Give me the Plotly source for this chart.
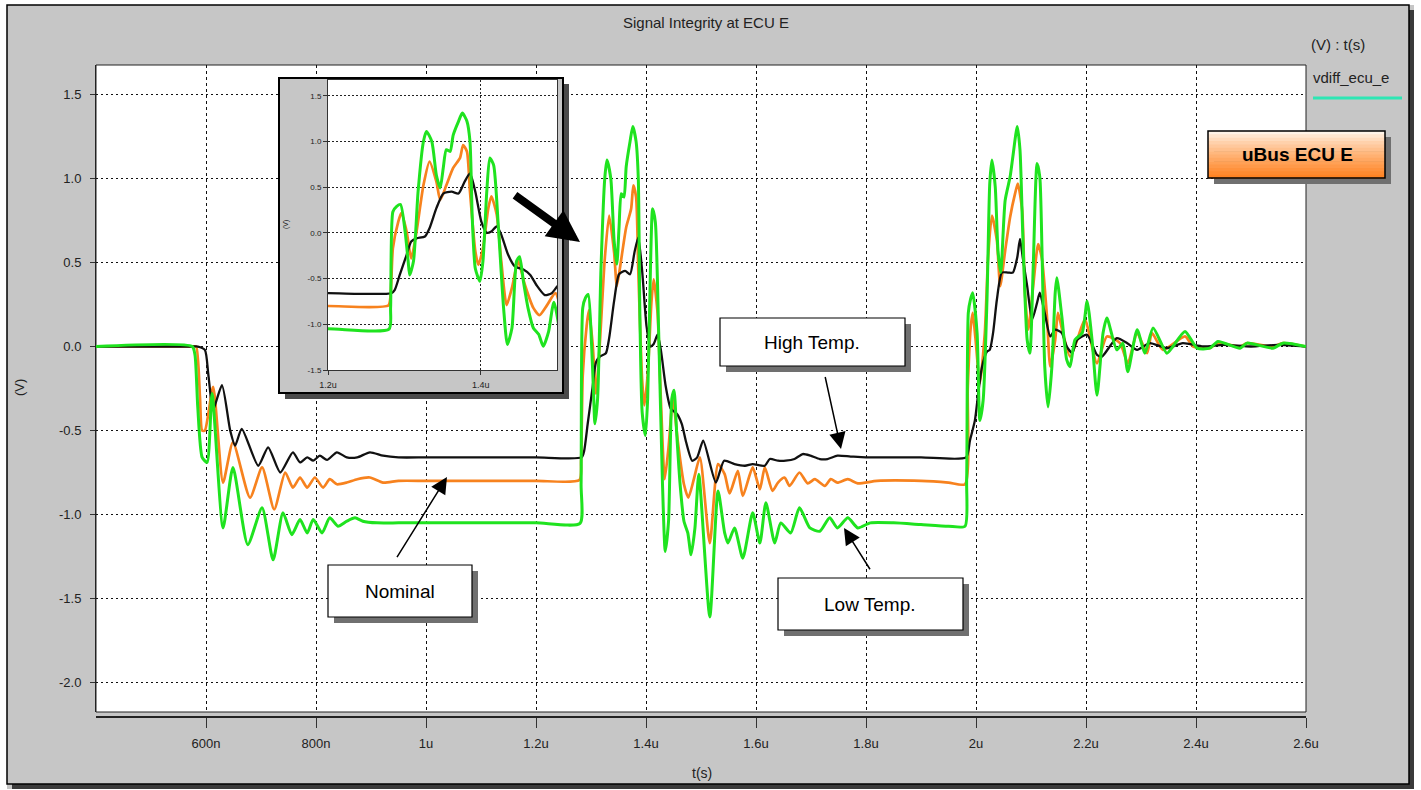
import plotly.graph_objects as go

W, H = 1421, 790

# ---------------- data (time in microseconds, voltage in volts) ----------------
t_high = [0.40, 0.575, 0.585, 0.598, 0.604, 0.611, 0.613, 0.629, 0.644, 0.653, 0.665, 0.695, 0.713,
          0.735, 0.758, 0.771, 0.784, 0.795, 0.807, 0.820, 0.838, 0.856, 0.875, 0.898, 0.922, 0.95,
          1.00, 1.10, 1.20, 1.283, 1.2875, 1.294, 1.303, 1.309, 1.316, 1.327, 1.333, 1.342, 1.351,
          1.362, 1.371, 1.379, 1.386, 1.393, 1.401, 1.408, 1.414, 1.421, 1.427, 1.436, 1.445, 1.456,
          1.465, 1.473, 1.484, 1.493, 1.504, 1.527, 1.542, 1.561, 1.580, 1.594, 1.616, 1.625, 1.640,
          1.654, 1.670, 1.685, 1.699, 1.716, 1.730, 1.748, 1.772, 1.80, 1.90, 1.982, 1.989, 1.998,
          2.004, 2.011, 2.020, 2.025, 2.031, 2.038, 2.047, 2.058, 2.067, 2.075, 2.080, 2.085, 2.093,
          2.102, 2.111, 2.116, 2.125, 2.135, 2.144, 2.156, 2.165, 2.175, 2.184, 2.202, 2.220, 2.229,
          2.256, 2.275, 2.293, 2.316, 2.347, 2.376, 2.413, 2.45, 2.50, 2.55, 2.60]
v_high = [0.0, 0.0, 0.0, -0.02, -0.16, -0.36, -0.38, -0.23, -0.50, -0.59, -0.49, -0.71, -0.60,
          -0.75, -0.63, -0.69, -0.66, -0.68, -0.65, -0.675, -0.63, -0.66, -0.66, -0.63, -0.65, -0.66,
          -0.66, -0.66, -0.66, -0.66, -0.623, -0.46, -0.24, -0.095, -0.06, -0.04, 0.05, 0.27, 0.43,
          0.45, 0.43, 0.56, 0.65, 0.45, 0.12, 0.0, 0.015, 0.07, -0.02, -0.24, -0.37, -0.40,
          -0.46, -0.57, -0.68, -0.66, -0.56, -0.81, -0.68, -0.70, -0.71, -0.70, -0.71, -0.67, -0.68,
          -0.68, -0.67, -0.64, -0.65, -0.67, -0.67, -0.65, -0.655, -0.66, -0.66, -0.66, -0.56, -0.44,
          -0.28, -0.12, -0.03, -0.02, 0.08, 0.28, 0.44, 0.44, 0.44, 0.53, 0.64, 0.53, 0.36,
          0.16, 0.26, 0.32, 0.20, 0.06, 0.10, 0.08, 0.0, -0.04, 0.04, 0.07, -0.05, -0.06,
          0.05, 0.02, -0.02, 0.02, -0.01, 0.02, 0.0, 0.01, 0.0, 0.01, 0.0]

t_nom = [0.40, 0.575, 0.582, 0.589, 0.593, 0.598, 0.613, 0.631, 0.649, 0.680, 0.702, 0.724, 0.744,
         0.758, 0.771, 0.784, 0.798, 0.813, 0.825, 0.838, 0.856, 0.875, 0.898, 0.922, 0.95, 1.00,
         1.10, 1.20, 1.279, 1.282, 1.285, 1.292, 1.296, 1.303, 1.309, 1.316, 1.325, 1.333, 1.342,
         1.347, 1.355, 1.364, 1.373, 1.377, 1.382, 1.386, 1.393, 1.397, 1.403, 1.410, 1.414, 1.421,
         1.427, 1.434, 1.441, 1.449, 1.458, 1.469, 1.477, 1.487, 1.498, 1.516, 1.531, 1.543, 1.552,
         1.567, 1.576, 1.594, 1.607, 1.616, 1.630, 1.640, 1.652, 1.661, 1.679, 1.694, 1.707, 1.725,
         1.736, 1.748, 1.767, 1.785, 1.82, 1.90, 1.95, 1.980, 1.985, 1.990, 1.994, 1.999, 2.007,
         2.016, 2.022, 2.029, 2.038, 2.044, 2.053, 2.062, 2.071, 2.076, 2.084, 2.089, 2.095, 2.104,
         2.113, 2.120, 2.129, 2.135, 2.144, 2.149, 2.158, 2.171, 2.184, 2.198, 2.220, 2.238, 2.262,
         2.276, 2.293, 2.311, 2.320, 2.340, 2.380, 2.395, 2.425, 2.440, 2.480, 2.493, 2.540, 2.558,
         2.60]
v_nom = [0.0, 0.0, 0.0, -0.30, -0.50, -0.50, -0.24, -0.81, -0.57, -0.90, -0.72, -0.97, -0.75,
         -0.84, -0.78, -0.84, -0.78, -0.84, -0.79, -0.82, -0.81, -0.79, -0.78, -0.81, -0.80, -0.80,
         -0.80, -0.80, -0.795, -0.68, -0.17, 0.12, 0.215, 0.015, -0.28, 0.015, 0.52, 0.78, 0.56,
         0.36, 0.52, 0.71, 0.82, 0.96, 0.89, 0.45, -0.20, -0.35, -0.17, 0.27, 0.40, 0.20,
         -0.31, -0.79, -0.60, -0.31, -0.57, -0.82, -0.90, -0.79, -0.66, -1.17, -0.70, -0.76, -0.875,
         -0.74, -0.89, -0.72, -0.85, -0.72, -0.86, -0.81, -0.78, -0.83, -0.75, -0.815, -0.79, -0.83,
         -0.79, -0.81, -0.79, -0.815, -0.80, -0.80, -0.81, -0.82, -0.25, 0.10, 0.20, 0.05, -0.22,
         0.08, 0.53, 0.78, 0.63, 0.36, 0.57, 0.77, 0.91, 0.97, 0.81, 0.32, 0.10, 0.36,
         0.61, 0.52, 0.18, -0.12, 0.04, 0.20, 0.08, -0.06, 0.04, 0.16, -0.10, 0.06, 0.02,
         -0.10, 0.08, -0.04, 0.08, -0.02, 0.06, 0.0, -0.01, 0.02, 0.0, 0.02, 0.0, 0.02,
         0.0]

t_low = [0.40, 0.575, 0.580, 0.585, 0.593, 0.602, 0.611, 0.631, 0.649, 0.676, 0.702, 0.722, 0.740,
         0.756, 0.771, 0.784, 0.795, 0.811, 0.825, 0.840, 0.856, 0.871, 0.885, 0.911, 0.95, 1.00,
         1.10, 1.20, 1.280, 1.282, 1.285, 1.290, 1.295, 1.301, 1.305, 1.307, 1.312, 1.318, 1.325,
         1.329, 1.336, 1.342, 1.347, 1.351, 1.355, 1.360, 1.364, 1.371, 1.376, 1.382, 1.386, 1.389,
         1.393, 1.399, 1.403, 1.408, 1.412, 1.417, 1.423, 1.430, 1.435, 1.441, 1.447, 1.451, 1.456,
         1.462, 1.469, 1.476, 1.482, 1.489, 1.496, 1.516, 1.531, 1.543, 1.549, 1.561, 1.576, 1.594,
         1.607, 1.618, 1.634, 1.645, 1.663, 1.679, 1.698, 1.716, 1.734, 1.748, 1.767, 1.785, 1.808,
         1.85, 1.90, 1.95, 1.980, 1.983, 1.986, 1.990, 1.994, 2.002, 2.007, 2.013, 2.020, 2.025,
         2.029, 2.035, 2.040, 2.045, 2.053, 2.062, 2.067, 2.075, 2.080, 2.085, 2.093, 2.098, 2.104,
         2.111, 2.116, 2.120, 2.125, 2.131, 2.138, 2.144, 2.147, 2.156, 2.165, 2.171, 2.180, 2.193,
         2.202, 2.211, 2.220, 2.231, 2.238, 2.256, 2.267, 2.276, 2.293, 2.307, 2.322, 2.347, 2.358,
         2.380, 2.402, 2.425, 2.440, 2.480, 2.493, 2.540, 2.558, 2.60]
v_low = [0.0, 0.0, -0.05, -0.36, -0.66, -0.69, -0.28, -1.08, -0.72, -1.18, -0.96, -1.27, -0.99,
         -1.12, -1.03, -1.11, -1.03, -1.11, -1.02, -1.07, -1.04, -1.02, -1.04, -1.05, -1.05, -1.05,
         -1.05, -1.05, -1.053, -0.82, 0.23, 0.29, 0.31, 0.015, -0.31, -0.46, -0.31, 0.45, 1.00,
         1.11, 1.00, 0.63, 0.49, 0.71, 0.91, 0.89, 1.07, 1.22, 1.31, 1.22, 1.00, 0.16,
         -0.39, -0.53, -0.31, 0.45, 0.82, 0.74, 0.09, -0.82, -1.22, -1.04, -0.31, -0.26, -0.53,
         -0.82, -1.04, -1.11, -1.24, -1.08, -0.76, -1.61, -0.86, -1.11, -1.17, -1.08, -1.26, -0.99,
         -1.17, -0.93, -1.17, -1.05, -1.11, -0.96, -1.08, -1.10, -1.02, -1.08, -1.02, -1.08, -1.05,
         -1.05, -1.06, -1.07, -1.07, -0.80, 0.20, 0.28, 0.32, 0.08, -0.44, -0.32, 0.28, 0.97,
         1.11, 0.95, 0.57, 0.44, 0.87, 1.01, 1.13, 1.31, 1.17, 0.67, 0.04, -0.04, 0.47,
         1.09, 1.01, 0.57, -0.12, -0.36, -0.12, 0.32, 0.41, 0.18, -0.08, -0.12, 0.04, 0.08,
         0.27, 0.04, -0.29, 0.08, 0.17, -0.02, 0.02, -0.15, 0.10, -0.04, 0.11, -0.04, 0.0,
         0.09, -0.01, -0.01, 0.03, -0.01, 0.02, -0.01, 0.02, 0.0]

x_tickvals = [0.6, 0.8, 1.0, 1.2, 1.4, 1.6, 1.8, 2.0, 2.2, 2.4, 2.6]
x_ticktext = ["600n", "800n", "1u", "1.2u", "1.4u", "1.6u", "1.8u", "2u", "2.2u", "2.4u", "2.6u"]
y_tickvals = [1.5, 1.0, 0.5, 0.0, -0.5, -1.0, -1.5, -2.0]
y_ticktext = ["1.5", "1.0", "0.5", "0.0", "-0.5", "-1.0", "-1.5", "-2.0"]
inset_xtickvals = [1.2, 1.4]
inset_xticktext = ["1.2u", "1.4u"]
inset_ytickvals = [1.5, 1.0, 0.5, 0.0, -0.5, -1.0, -1.5]
inset_yticktext = ["1.5", "1.0", "0.5", "0.0", "-0.5", "-1.0", "-1.5"]

series = [
    ("Nominal", t_nom, v_nom, "#f7821e", 2.7),
    ("High Temp.", t_high, v_high, "#111111", 2.3),
    ("Low Temp.", t_low, v_low, "#1fe31f", 3.0),
]

# ---------------- helpers (pixel -> paper) ----------------
def fx(px):
    return px / W


def fy(py):
    return 1 - py / H


def rect(x0, y0, x1, y1, layer="below", **kw):
    return dict(type="rect", xref="paper", yref="paper", x0=fx(x0), x1=fx(x1),
                y0=fy(y1), y1=fy(y0), layer=layer, **kw)


GRAY = "#c6c6c6"
FONT = "Liberation Sans"

fig = go.Figure()

# main traces
for name, t, v, col, lw in series:
    fig.add_trace(go.Scatter(x=t, y=v, mode="lines", name=name, xaxis="x", yaxis="y",
                             line=dict(color=col, width=lw, shape="spline", smoothing=0.6),
                             showlegend=False, hoverinfo="skip"))
# frame subplot for the inset (empty)
fig.add_trace(go.Scatter(x=[], y=[], xaxis="x2", yaxis="y2", showlegend=False, hoverinfo="skip"))
# inset traces
for name, t, v, col, lw in series:
    fig.add_trace(go.Scatter(x=t, y=v, mode="lines", name=name, xaxis="x3", yaxis="y3",
                             line=dict(color=col, width=lw, shape="spline", smoothing=0.6),
                             showlegend=False, hoverinfo="skip"))

shapes = []
# outside white margins
shapes += [rect(0, 0, 7, H, fillcolor="white", line_width=0),
           rect(0, 0, W, 5, fillcolor="white", line_width=0),
           rect(1414, 0, W, H, fillcolor="white", line_width=0),
           rect(0, 789, W, H, fillcolor="white", line_width=0)]
# outer frame + shadow
shapes += [rect(1409, 10, 1414, 789, fillcolor="#3a3a3a", line_width=0),
           rect(12, 784, 1414, 789, fillcolor="#3a3a3a", line_width=0),
           rect(7, 5, 1409, 784, line=dict(color="#000", width=1.5))]
# main plot border
shapes.append(rect(96, 65, 1306, 712, line=dict(color="#222", width=1)))
# legend line
shapes.append(dict(type="line", xref="paper", yref="paper", x0=fx(1313), x1=fx(1402),
                   y0=fy(98), y1=fy(98), line=dict(color="#2ee6b4", width=3), layer="below"))

# inset frame (in the x2/y2 frame subplot, pixel-like units)
shapes.append(dict(type="rect", xref="x2", yref="y2", x0=285, x1=569, y0=84, y1=399,
                   fillcolor="#4a4a4a", line_width=0, layer="below"))
shapes.append(dict(type="rect", xref="x2", yref="y2", x0=279, x1=563, y0=78, y1=393,
                   fillcolor=GRAY, line=dict(color="#000", width=2), layer="below"))

# text boxes with shadows
boxes = [(720, 318, 905, 366), (328, 565, 472, 617), (778, 578, 963, 630)]
for x0, y0, x1, y1 in boxes:
    shapes.append(rect(x0 + 6, y0 + 6, x1 + 6, y1 + 6, layer="above", fillcolor="#707070", line_width=0))
    shapes.append(rect(x0, y0, x1, y1, layer="above", fillcolor="white", line=dict(color="#000", width=1.2)))

# uBus ECU E gradient box
bx0, by0, bx1, by1 = 1208, 131, 1385, 178
shapes.append(rect(bx0 + 6, by0 + 6, bx1 + 6, by1 + 6, layer="above", fillcolor="#707070", line_width=0))
c_top = (255, 244, 232)
c_bot = (255, 132, 36)
n = 14
for i in range(n):
    f = (i / (n - 1)) ** 0.8
    c = tuple(int(round(c_top[k] + (c_bot[k] - c_top[k]) * f)) for k in range(3))
    ya = by0 + (by1 - by0) * i / n
    yb = by0 + (by1 - by0) * (i + 1) / n + 0.6
    shapes.append(rect(bx0, ya, bx1, yb, layer="above", fillcolor="rgb(%d,%d,%d)" % c, line_width=0))
shapes.append(rect(bx0, by0, bx1, by1, layer="above", line=dict(color="#000", width=1.5)))

annotations = []


def text(px, py, s, size=13, color="#222", family=FONT, xanchor="center", angle=0, **kw):
    annotations.append(dict(x=fx(px), y=fy(py), xref="paper", yref="paper", text=s, showarrow=False,
                            xanchor=xanchor, yanchor="middle", textangle=angle,
                            font=dict(family=family, size=size, color=color), **kw))


text(706, 22, "Signal Integrity at ECU E", size=15)
text(1338, 45, "(V) : t(s)", size=15)
text(1311, 78, "vdiff_ecu_e", size=15, xanchor="left")
text(702, 773, "t(s)", size=14)
text(20, 388, "(V)", size=13, angle=-90)
text(286, 225, "(V)", size=7, angle=-90)
text(812, 342, "High Temp.", size=19, color="#000")
text(400, 591, "Nominal", size=19, color="#000")
text(870, 604, "Low Temp.", size=19, color="#000")
text(1297, 155, "<b>uBus ECU E</b>", size=19, color="#000")


def arrow(tipx, tipy, tailx, taily, width=1.5, size=2.2):
    annotations.append(dict(x=fx(tipx), y=fy(tipy), xref="paper", yref="paper", text=" ",
                            showarrow=True, ax=tailx - tipx, ay=taily - tipy, arrowhead=2,
                            arrowsize=size, arrowwidth=width, arrowcolor="#000",
                            standoff=0, startstandoff=0))


arrow(841, 449, 823, 367)
arrow(447, 477, 394, 562)
arrow(844, 528, 873, 574)
arrow(580, 242, 512, 193, width=8, size=0.8)

grid_dot = "2px,3px"
fig.update_layout(
    template="none",
    width=W, height=H,
    margin=dict(l=0, r=0, t=0, b=0, pad=0, autoexpand=False),
    paper_bgcolor=GRAY,
    plot_bgcolor="white",
    hovermode=False,
    showlegend=False,
    xaxis=dict(domain=[fx(96), fx(1306)], range=[0.4, 2.6], anchor="free", position=fy(717),
               tickvals=x_tickvals, ticktext=x_ticktext, showgrid=True, gridcolor="#111",
               griddash="3px,3px", gridwidth=1, showline=True, linecolor="#222", linewidth=2,
               ticks="outside", ticklen=10, tickcolor="#333", tickwidth=1, zeroline=False,
               tickfont=dict(family=FONT, size=13, color="#222"), ticklabelstandoff=4,
               fixedrange=True, automargin=False),
    yaxis=dict(domain=[fy(712), fy(65)], range=[-2.176, 1.676], anchor="x",
               tickvals=y_tickvals, ticktext=y_ticktext, showgrid=True, gridcolor="#111",
               griddash=grid_dot, gridwidth=1, showline=True, linecolor="#222", linewidth=1,
               ticks="outside", ticklen=5, tickcolor="#333", zeroline=False,
               tickfont=dict(family=FONT, size=13, color="#222"), ticklabelstandoff=6,
               fixedrange=True, automargin=False),
    xaxis2=dict(domain=[fx(278), fx(569)], range=[278, 569], anchor="y2", visible=False,
                showgrid=False, zeroline=False, fixedrange=True, automargin=False),
    yaxis2=dict(domain=[fy(399), fy(77)], range=[399, 77], anchor="x2", visible=False,
                showgrid=False, zeroline=False, fixedrange=True, automargin=False),
    xaxis3=dict(domain=[fx(328), fx(557)], range=[1.2, 1.5], anchor="y3",
                tickvals=inset_xtickvals, ticktext=inset_xticktext, showgrid=True,
                gridcolor="#222", griddash="2px,2px", gridwidth=1, showline=True, mirror=True,
                linecolor="#333", linewidth=1, ticks="outside", ticklen=4, tickcolor="#333",
                zeroline=False, tickfont=dict(family=FONT, size=9, color="#222"), fixedrange=True,
                ticklabelstandoff=2, automargin=False),
    yaxis3=dict(domain=[fy(370), fy(80)], range=[-1.5, 1.672], anchor="x3",
                tickvals=inset_ytickvals, ticktext=inset_yticktext, showgrid=True,
                gridcolor="#222", griddash="2px,2px", gridwidth=1, showline=True, mirror=True,
                linecolor="#333", linewidth=1, ticks="outside", ticklen=4, tickcolor="#333",
                zeroline=False, tickfont=dict(family=FONT, size=8, color="#222"), fixedrange=True,
                automargin=False),
    shapes=shapes,
    annotations=annotations,
)

# remove the default 8px body margin so the 1421x790 figure fills the window exactly
fix_margin = "document.body.style.margin='0'; document.body.style.overflow='hidden';"
fig.write_html("out.html", config={"displayModeBar": False, "staticPlot": True},
               post_script=fix_margin)
